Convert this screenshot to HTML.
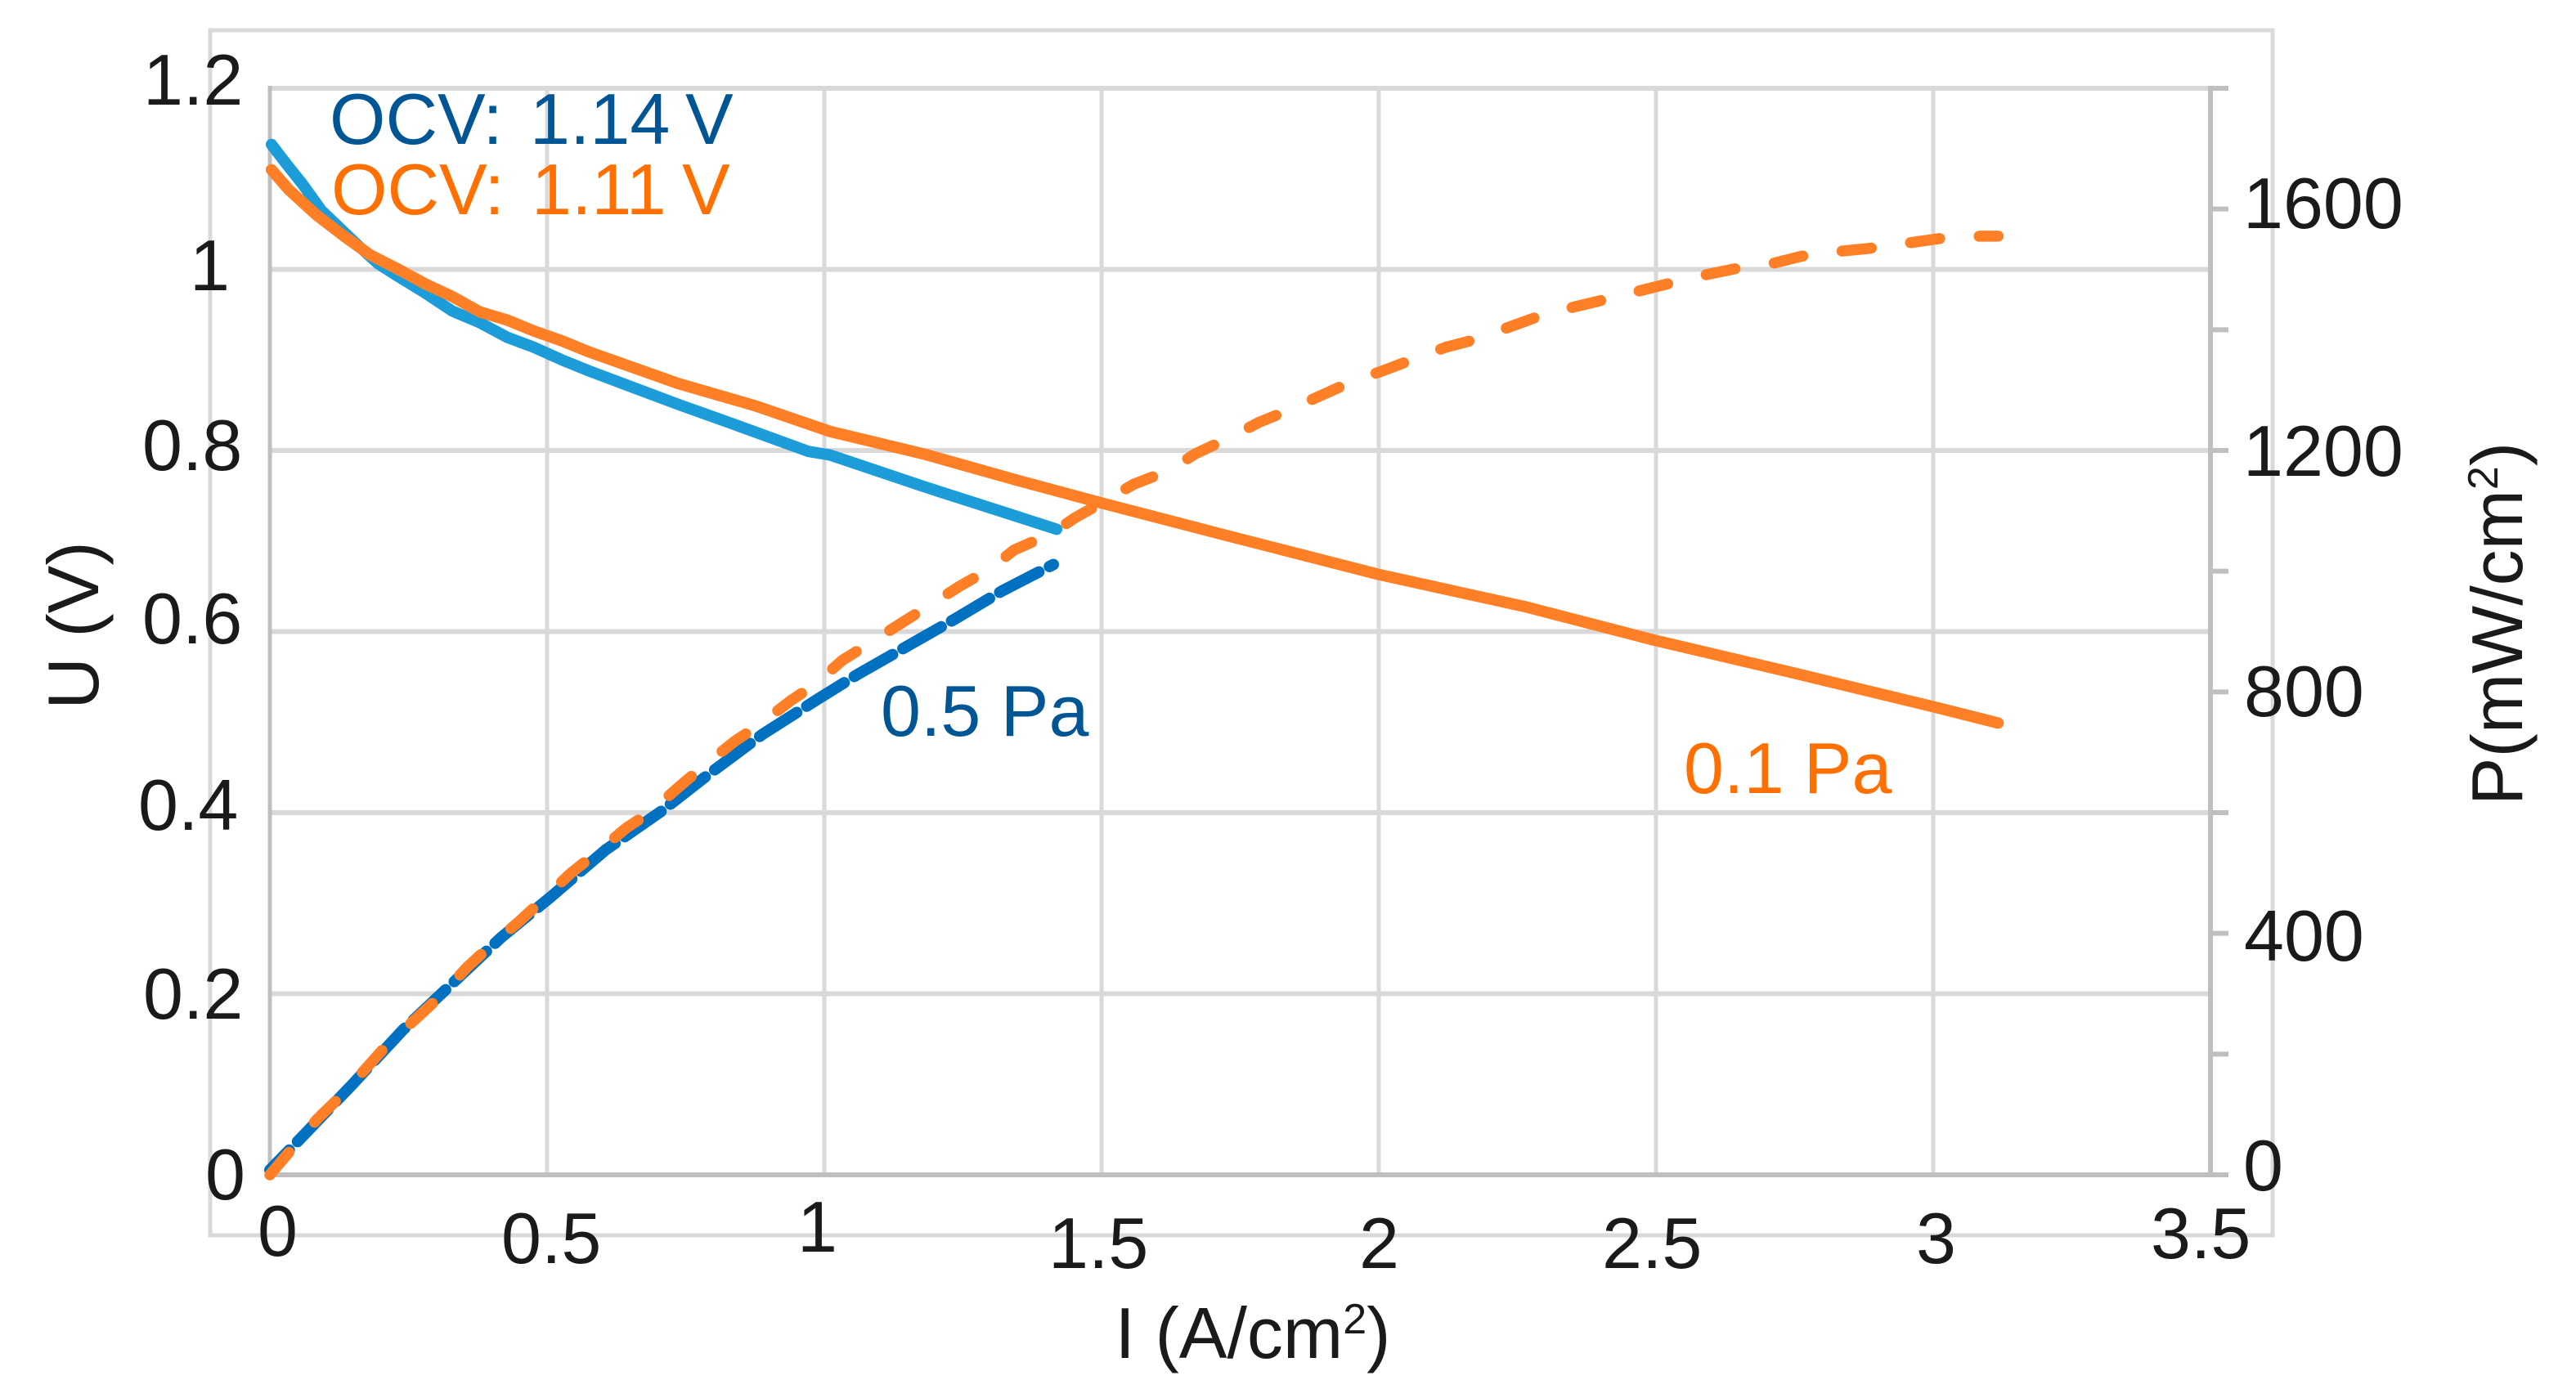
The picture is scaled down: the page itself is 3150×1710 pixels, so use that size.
<!DOCTYPE html>
<html lang="en">
<head>
<meta charset="utf-8">
<title>Fuel cell polarization and power density</title>
<style>
html,body{margin:0;padding:0;background:#fff;width:3150px;height:1710px;overflow:hidden}
svg{display:block}
text{font-family:"Liberation Sans",Arial,sans-serif;font-size:88px;fill:#1a1a1a}
</style>
</head>
<body>
<svg id="chart" xmlns="http://www.w3.org/2000/svg" width="3150" height="1710" viewBox="0 0 3150 1710">
  <rect x="257" y="37" width="2522" height="1474" fill="none" stroke="#d9d9d9" stroke-width="5"/>
  <g id="grid"></g>
  <g id="axes"></g>
  <g id="series"></g>

  <g>
    <text x="175" y="128">1.2</text>
    <text x="232" y="355">1</text>
    <text x="174" y="575">0.8</text>
    <text x="174" y="787">0.6</text>
    <text x="169" y="1015">0.4</text>
    <text x="175" y="1246">0.2</text>
    <text x="251" y="1467">0</text>
  </g>
  <g>
    <text x="315" y="1536">0</text>
    <text x="613" y="1545">0.5</text>
    <text x="975" y="1531">1</text>
    <text x="1282" y="1551">1.5</text>
    <text x="1662" y="1551">2</text>
    <text x="1959" y="1551">2.5</text>
    <text x="2343" y="1545">3</text>
    <text x="2630" y="1539">3.5</text>
  </g>
  <g>
    <text x="2743" y="279">1600</text>
    <text x="2743" y="582">1200</text>
    <text x="2744" y="876">800</text>
    <text x="2744" y="1175">400</text>
    <text x="2743" y="1456">0</text>
  </g>

  <text text-anchor="middle" transform="translate(120 765) rotate(-90)">U (V)</text>
  <text text-anchor="middle" transform="translate(3084 763) rotate(-90)">P(mW/cm<tspan dy="-30" style="font-size:52px">2</tspan><tspan dy="30">)</tspan></text>
  <text text-anchor="middle" x="1532" y="1661">I (A/cm<tspan dy="-30" style="font-size:52px">2</tspan><tspan dy="30">)</tspan></text>

  <text x="403" y="176" style="fill:#005594">OCV:<tspan x="648">1.14</tspan><tspan x="838">V</tspan></text>
  <text x="405" y="262" style="fill:#ff7000">OCV:<tspan x="650">1.11</tspan><tspan x="834">V</tspan></text>
  <text x="1077" y="900" style="fill:#005594">0.5 Pa</text>
  <text x="2059" y="970" style="fill:#ff7000">0.1 Pa</text>
</svg>
<script>
// Axis ticks
const xTicks = [0, 0.5, 1, 1.5, 2, 2.5, 3, 3.5];
const uTicks = [0, 0.2, 0.4, 0.6, 0.8, 1, 1.2];
const pTicks = [0, 200, 400, 600, 800, 1000, 1200, 1400, 1600, 1800];

// Voltage curves: current density (A/cm2) and voltage (V)
const voltageCurrent05 = [0.003, 0.029, 0.059, 0.093, 0.158, 0.196, 0.232, 0.280, 0.329, 0.379, 0.428, 0.476, 0.527, 0.575, 0.736, 0.841, 0.971, 1.01, 1.18, 1.348, 1.419];
const voltage05 = [1.138, 1.117, 1.094, 1.065, 1.027, 1.006, 0.992, 0.974, 0.954, 0.941, 0.925, 0.914, 0.900, 0.888, 0.851, 0.828, 0.799, 0.795, 0.760, 0.727, 0.713];
const voltageCurrent01 = [0.003, 0.034, 0.084, 0.133, 0.181, 0.232, 0.280, 0.329, 0.379, 0.428, 0.476, 0.527, 0.575, 0.736, 0.877, 1.01, 1.18, 1.348, 1.50, 1.726, 2.0, 2.267, 2.5, 2.75, 3.0, 3.117];
const voltage01 = [1.110, 1.088, 1.060, 1.037, 1.016, 1.0, 0.984, 0.970, 0.953, 0.944, 0.932, 0.921, 0.909, 0.874, 0.849, 0.821, 0.796, 0.767, 0.742, 0.706, 0.663, 0.627, 0.59, 0.554, 0.517, 0.499];

// Power curves: current density (A/cm2) and power density (mW/cm2)
const powerCurrent05 = [0, 0.055, 0.147, 0.240, 0.329, 0.417, 0.506, 0.605, 0.704, 0.792, 0.889, 0.988, 1.06, 1.15, 1.236, 1.32, 1.413];
const power05 = [8, 60, 148, 240, 317, 393, 460, 538, 601, 664, 730, 788, 829, 876, 921, 967, 1011];
const powerCurrent01 = [0, 0.084, 0.122, 0.173, 0.209, 0.265, 0.305, 0.357, 0.395, 0.450, 0.490, 0.543, 0.586, 0.642, 0.686, 0.742, 0.782, 0.838, 0.882, 0.940, 0.984, 1.032, 1.091, 1.137, 1.196, 1.242, 1.301, 1.342, 1.409, 1.453, 1.496, 1.558, 1.622, 1.670, 1.726, 1.785, 1.833, 1.898, 1.944, 2.010, 2.056, 2.121, 2.171, 2.237, 2.285, 2.353, 2.403, 2.473, 2.521, 2.590, 2.642, 2.711, 2.763, 2.832, 2.886, 2.957, 3.012, 3.084, 3.117];
const power01 = [0, 91, 125, 176, 213, 260, 294, 345, 377, 420, 454, 500, 531, 574, 601, 646, 677, 718, 745, 786, 813, 852, 886, 913, 947, 974, 1005, 1035, 1062, 1089, 1111, 1144, 1167, 1195, 1219, 1247, 1265, 1292, 1311, 1333, 1349, 1371, 1383, 1405, 1421, 1438, 1449, 1465, 1476, 1491, 1501, 1510, 1522, 1530, 1535, 1544, 1551, 1555, 1555];

const SVG_NS = 'http://www.w3.org/2000/svg';
const xScale = v => 330 + v * 678;
const uScale = v => 1437 - v * 1107.5;
const pScale = v => 1437 - v * 1329 / 1800;

function makeLine(parent, x1, y1, x2, y2, color, width) {
  const el = document.createElementNS(SVG_NS, 'line');
  el.setAttribute('x1', x1);
  el.setAttribute('y1', y1);
  el.setAttribute('x2', x2);
  el.setAttribute('y2', y2);
  el.setAttribute('stroke', color);
  el.setAttribute('stroke-width', width);
  parent.appendChild(el);
  return el;
}

function makeCurve(parent, xs, ys, yScale, color, width, dash, offset) {
  const el = document.createElementNS(SVG_NS, 'polyline');
  el.setAttribute('points', xs.map((x, i) => xScale(x).toFixed(1) + ',' + yScale(ys[i]).toFixed(1)).join(' '));
  el.setAttribute('fill', 'none');
  el.setAttribute('stroke', color);
  el.setAttribute('stroke-width', width);
  el.setAttribute('stroke-linecap', 'round');
  el.setAttribute('stroke-linejoin', 'round');
  if (dash) el.setAttribute('stroke-dasharray', dash);
  if (offset) el.setAttribute('stroke-dashoffset', offset);
  parent.appendChild(el);
  return el;
}

const grid = document.getElementById('grid');
const axes = document.getElementById('axes');
const series = document.getElementById('series');

xTicks.forEach(t => {
  if (t === 0 || t === 3.5) return;
  const el = makeLine(grid, xScale(t), uScale(1.2), xScale(t), uScale(0), '#d9d9d9', 5);
  
  
});
uTicks.forEach(t => {
  if (t === 0) return;
  const el = makeLine(grid, xScale(0), uScale(t), xScale(3.5), uScale(t), '#d9d9d9', 6);
  
  
});

const leftAxis = makeLine(axes, xScale(0), uScale(1.2) - 3, xScale(0), uScale(0) + 3, '#bfbfbf', 5);


const rightAxis = makeLine(axes, xScale(3.5), pScale(1800) - 3, xScale(3.5), pScale(0) + 3, '#bfbfbf', 6);


const bottomAxis = makeLine(axes, xScale(0), uScale(0), xScale(3.5) + 22, uScale(0), '#bfbfbf', 6);


pTicks.forEach(t => {
  if (t === 0) return;
  const el = makeLine(axes, xScale(3.5), pScale(t), xScale(3.5) + 22, pScale(t), '#bfbfbf', 6);
  
  
});

const voltageLine05 = makeCurve(series, voltageCurrent05, voltage05, uScale, '#1c9cd8', 14);


const voltageLine01 = makeCurve(series, voltageCurrent01, voltage01, uScale, '#ff7f27', 14);


const powerLine05 = makeCurve(series, powerCurrent05, power05, pScale, '#0070c0', 14, '54 14.5', 20);


const powerLine01 = makeCurve(series, powerCurrent01, power01, pScale, '#ff7f27', 13.5, '36 48.4');


</script>
</body>
</html>
